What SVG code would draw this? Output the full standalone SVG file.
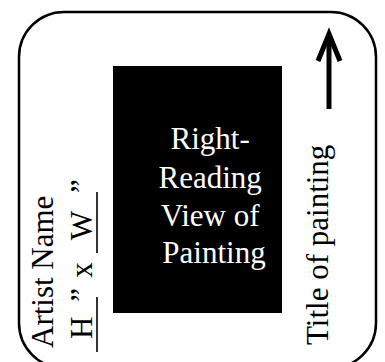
<svg xmlns="http://www.w3.org/2000/svg" width="385" height="362" viewBox="0 0 385 362">
  <style>
    .frame { fill: #fff; stroke: #000; stroke-width: 2.5; }
    .serif { font-family: "Liberation Serif", "Times New Roman", serif; font-size: 31px; }
    .dark { fill: #000; }
    .light { fill: #fff; }
    .rule { stroke: #000; stroke-width: 1.6; }
    .arrow { fill: none; stroke: #000; stroke-width: 5; }
  </style>
  <rect width="385" height="362" fill="#fff"/>

  <!-- mat outline -->
  <g id="mat">
    <rect class="frame" x="19" y="12" width="357" height="356" rx="45" ry="45"/>
  </g>

  <!-- painting block with its centred caption -->
  <g id="painting">
    <rect class="dark" x="113" y="66" width="169" height="247"/>
    <text class="serif light" text-anchor="middle">
      <tspan x="214" y="149">Right-</tspan>
      <tspan x="214" y="187.5">Reading</tspan>
      <tspan x="214" y="226">View of</tspan>
      <tspan x="214" y="263">Painting</tspan>
    </text>
  </g>

  <!-- artist label, read bottom to top -->
  <g id="artist-label">
    <text class="serif dark" transform="rotate(-90)" x="-348" y="53">Artist Name</text>
    <text class="serif dark" transform="rotate(-90)" text-anchor="middle">
      <tspan x="-324" y="92">H</tspan>
      <tspan x="-291" y="92">”</tspan>
      <tspan x="-266" y="92">x</tspan>
      <tspan x="-222" y="92">W</tspan>
      <tspan x="-186" y="92">”</tspan>
    </text>
    <line class="rule" x1="97" y1="297" x2="97" y2="352"/>
    <line class="rule" x1="97" y1="192" x2="97" y2="253"/>
  </g>

  <!-- title label with its orientation arrow -->
  <g id="title-label">
    <text class="serif dark" transform="rotate(-90)" x="-345" y="328">Title of painting</text>
  </g>

  <g id="connectors">
    <line class="arrow" x1="329" y1="109" x2="329" y2="36"/>
    <path class="arrow" d="M318,61 L329,34 L340,61" stroke-linejoin="miter"/>
  </g>
</svg>
